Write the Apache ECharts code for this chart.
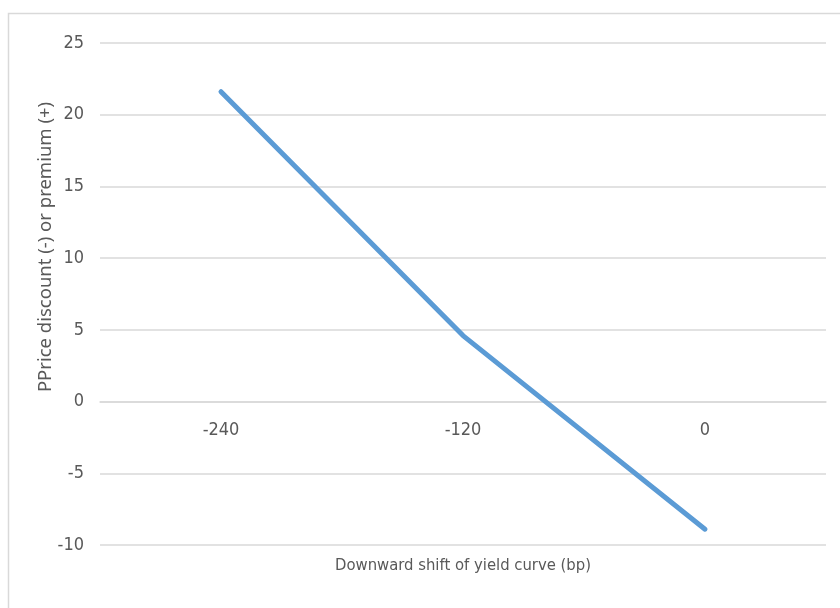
<!DOCTYPE html>
<html>
<head>
<meta charset="utf-8">
<script src="https://cdn.jsdelivr.net/npm/echarts@6/dist/echarts.min.js"></script>
<style>html,body{margin:0;padding:0;background:#fff}#c{width:840px;height:608px}</style>
</head>
<body>
<div id="c"></div>
<script>
const categories = ['-240', '-120', '0'];
const values = [21.6, 4.6, -8.9];
const yTicks = { min: -10, max: 25, step: 5 };
const xTitle = 'Downward shift of yield curve (bp)';
const yTitle = 'PPrice discount (-) or premium (+)';

const textColor = '#595959';
const gridColor = '#d9d9d9';
const font = '"Liberation Sans Narrow", "DejaVu Sans Condensed", "Liberation Sans", sans-serif';

const chart = echarts.init(document.getElementById('c'), null, { renderer: 'canvas' });
const plotTop = 43, plotBottom = 545;
const zeroOffset = (plotBottom - plotTop) * (0 - yTicks.min) / (yTicks.max - yTicks.min);
chart.setOption({
  animation: false,
  backgroundColor: '#fff',
  grid: { left: 100, right: 14, top: plotTop, bottom: 608 - plotBottom, containLabel: false },
  xAxis: {
    type: 'category',
    data: categories,
    boundaryGap: true,
    offset: -zeroOffset,
    axisLine: { show: true, onZero: false, lineStyle: { color: gridColor, width: 1.5 } },
    axisTick: { show: false },
    splitLine: { show: false },
    axisLabel: { color: textColor, fontFamily: font, fontSize: 18, margin: 20 }
  },
  yAxis: {
    type: 'value',
    min: yTicks.min, max: yTicks.max, interval: yTicks.step,
    axisLine: { show: false },
    axisTick: { show: false },
    splitLine: { show: true, lineStyle: { color: gridColor, width: 1.5 } },
    axisLabel: { color: textColor, fontFamily: font, fontSize: 18, margin: 16 }
  },
  series: [{
    type: 'line',
    data: values,
    symbol: 'none',
    lineStyle: { color: '#5b9bd5', width: 5, cap: 'round', join: 'round' }
  }],
  graphic: [
    { type: 'rect', left: 6, top: 11, shape: { width: 900, height: 700 }, style: { fill: 'none', stroke: gridColor, lineWidth: 1.5 }, silent: true, z: -1 },
    { type: 'text', x: 46, y: 247, rotation: Math.PI / 2,
      style: { text: yTitle, fill: textColor, font: '18.5px "Noto Sans", sans-serif', align: 'center', verticalAlign: 'middle' } },
    { type: 'text', x: 463, y: 566,
      style: { text: xTitle, fill: textColor, font: '16.5px "Liberation Sans Narrow", "DejaVu Sans Condensed", sans-serif', align: 'center', verticalAlign: 'middle' } }
  ]
});
</script>
</body>
</html>
